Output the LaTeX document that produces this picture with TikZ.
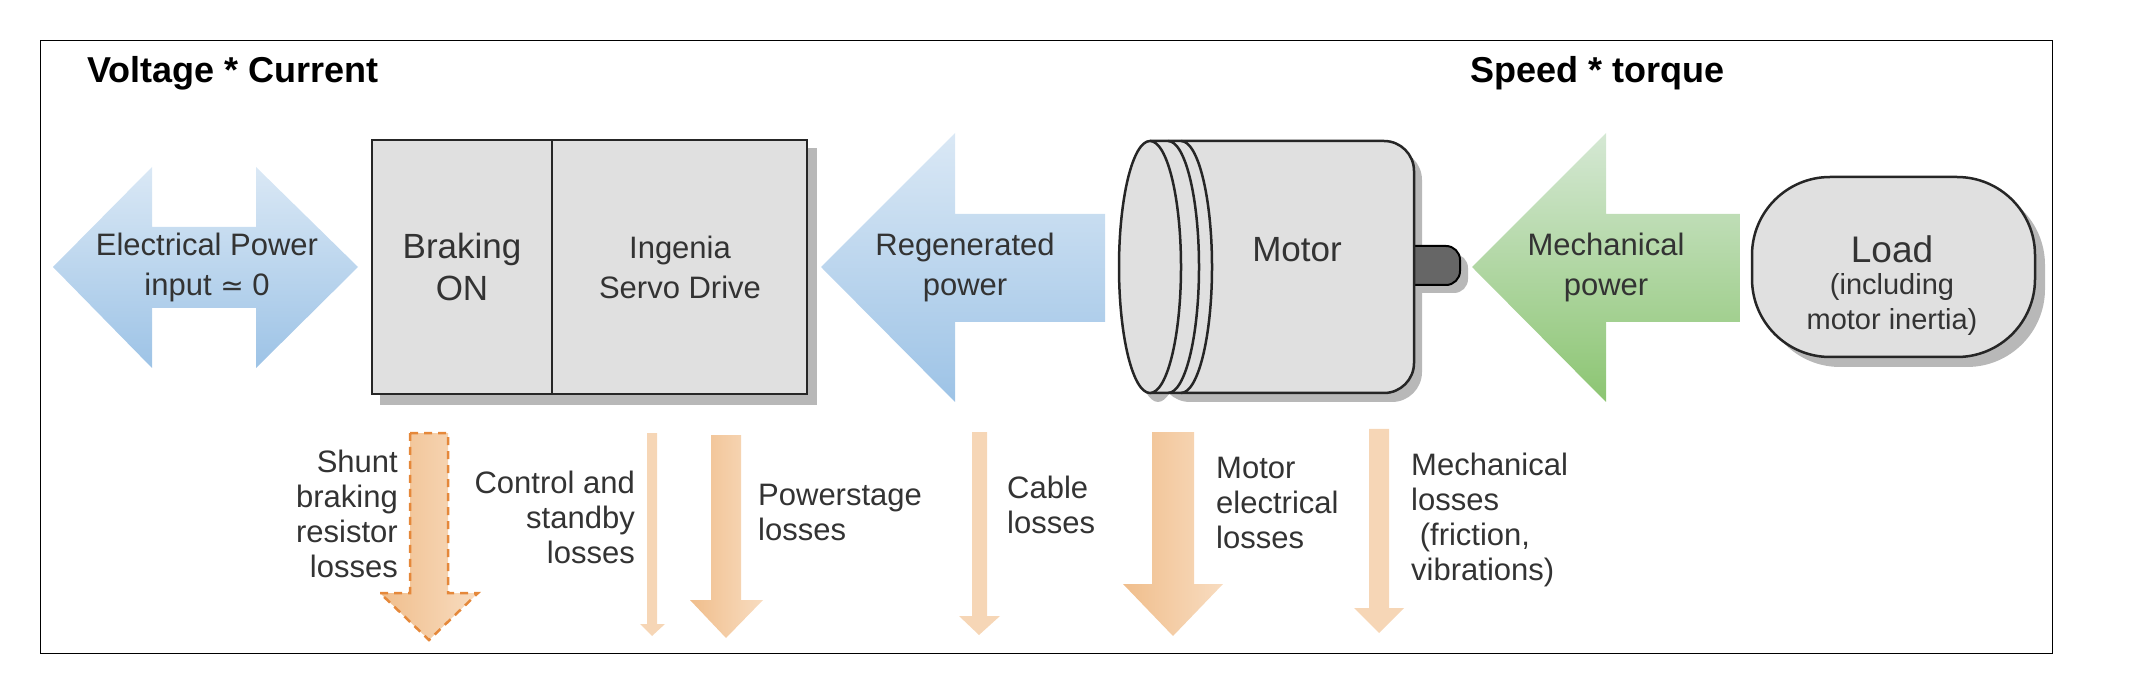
\documentclass[tikz,border=0pt]{standalone}
\usepackage{fontspec}
\setmainfont{Liberation Sans}
\newfontfamily\symf{DejaVu Sans}
\usetikzlibrary{shadings}
\definecolor{txt}{HTML}{333333}
\definecolor{blt}{HTML}{DAE8F5}
\definecolor{blb}{HTML}{9DC3E6}
\definecolor{grt}{HTML}{D5E8D4}
\definecolor{grb}{HTML}{8CC572}
\definecolor{ord}{HTML}{F0BE8C}
\definecolor{orl}{HTML}{F8DCC0}
\definecolor{orp}{HTML}{F6D6B6}
\definecolor{ordash}{HTML}{E5883A}
\definecolor{boxf}{HTML}{E0E0E0}
\definecolor{shd}{HTML}{B8B8B8}
\begin{document}
\begin{tikzpicture}[x=1pt,y=-1pt,
  lbl/.style={text=txt,font=\fontsize{31}{40}\selectfont,inner sep=0pt},
  big/.style={text=txt,font=\fontsize{35}{42}\selectfont,inner sep=0pt},
  sml/.style={text=txt,font=\fontsize{31}{35}\selectfont,inner sep=0pt},
  ttl/.style={text=black,font=\fontsize{36}{42}\selectfont\bfseries,inner sep=0pt,anchor=west},
  blu/.style={top color=blt,bottom color=blb},
  grn/.style={top color=grt,bottom color=grb},
  loss/.style={left color=ord,right color=orl},
  thin/.style={fill=orp},
  edge/.style={draw=black!85,line width=2.5pt}]
\useasboundingbox (0,0) rectangle (2134,692);
\draw[black,line width=1pt] (40,41) rectangle (2052,653);
\node[ttl] (t1) at (87,73) {Voltage * Current};
\node[ttl] (t2) at (1470,73) {Speed * torque};
% left double arrow
\shade[blu] (53,267) -- (152,167) -- (152,227) -- (256,227) -- (256,167) -- (358,267) -- (256,368) -- (256,308) -- (152,308) -- (152,368) -- cycle;
\node[lbl,align=center] (ep) at (207,267) {Electrical Power\\input {\symf\fontsize{28}{40}\selectfont ≃} 0};
% drive box
\fill[shd] (380,148) rectangle (817,405);
\draw[edge,fill=boxf] (372,140) rectangle (807,394);
\draw[edge] (552,140) -- (552,394);
\node[big,align=center] (br) at (462,267) {Braking\\ON};
\node[lbl,align=center] (dr) at (680,267) {Ingenia\\Servo Drive};
% regenerated arrow
\shade[blu] (821,267) -- (955,133) -- (955,214) -- (1105,214) -- (1105,322) -- (955,322) -- (955,402) -- cycle;
\node[lbl,align=center] (rg) at (965,267) {Regenerated\\power};
% motor
\fill[shd,rounded corners=30] (1160,150) -- (1422,150) -- (1422,402) -- (1160,402) -- cycle;
\fill[shd] (1158,276) ellipse[x radius=31,y radius=126];
\fill[shd,rounded corners=14] (1404,254) -- (1468,254) -- (1468,293) -- (1404,293) -- cycle;
\draw[line width=2pt,fill=black!60,rounded corners=14] (1390,246) -- (1460,246) -- (1460,285) -- (1390,285) -- cycle;
\draw[edge,fill=boxf,rounded corners=30] (1150,141) -- (1414,141) -- (1414,393) -- (1150,393);
\draw[edge] (1181,141) arc[start angle=-90,end angle=90,x radius=31,y radius=126];
\draw[edge] (1168,141) arc[start angle=-90,end angle=90,x radius=31,y radius=126];
\draw[edge,fill=boxf] (1150,267) ellipse[x radius=31,y radius=126];
\node[big] (mo) at (1297,250) {Motor};
% mechanical arrow
\shade[grn] (1472,267) -- (1606,133) -- (1606,214) -- (1740,214) -- (1740,322) -- (1606,322) -- (1606,402) -- cycle;
\node[lbl,align=center] (mp) at (1606,267) {Mechanical\\power};
% load
\fill[shd,rounded corners=78] (1762,187) rectangle (2045,367);
\draw[edge,fill=boxf,rounded corners=78] (1752,177) rectangle (2035,357);
\node[big,font=\fontsize{37}{42}\selectfont] (ld) at (1892,249) {Load};
\node[sml,align=center,font=\fontsize{29}{35}\selectfont] (ldi) at (1892,304) {(including\\motor inertia)};
% losses
\shade[loss] (410,433) -- (448,433) -- (448,593) -- (478,593) -- (429,640) -- (380,593) -- (410,593) -- cycle;
\draw[ordash,line width=2.5pt,dash pattern=on 8pt off 6pt] (410,433) -- (448,433) -- (448,593) -- (478,593) -- (429,640) -- (380,593) -- (410,593) -- cycle;
\node[sml,align=right,anchor=east] (sh) at (398,514) {Shunt\\braking\\resistor\\losses};
\fill[thin] (647,433) -- (657,433) -- (657,624) -- (665,624) -- (652,636) -- (640,624) -- (647,624) -- cycle;
\node[sml,align=right,anchor=east] (cs) at (635,517) {Control and\\standby\\losses};
\shade[loss] (711,435) -- (741,435) -- (741,600) -- (763,600) -- (726,638) -- (690,600) -- (711,600) -- cycle;
\node[sml,align=left,anchor=west] (ps) at (758,512) {Powerstage\\losses};
\fill[thin] (972,432) -- (987,432) -- (987,616) -- (1000,616) -- (979,635) -- (959,616) -- (972,616) -- cycle;
\node[sml,align=left,anchor=west] (cl) at (1007,505) {Cable\\losses};
\shade[loss] (1152,432) -- (1194,432) -- (1194,584) -- (1223,584) -- (1173,636) -- (1123,584) -- (1152,584) -- cycle;
\node[sml,align=left,anchor=west] (me) at (1216,503) {Motor\\electrical\\losses};
\fill[thin] (1369,429) -- (1389,429) -- (1389,608) -- (1404,608) -- (1379,633) -- (1354,608) -- (1369,608) -- cycle;
\node[sml,align=left,anchor=west] (ml) at (1411,520) {Mechanical\\losses\\\ (friction,\\vibrations)};
\end{tikzpicture}
\end{document}
